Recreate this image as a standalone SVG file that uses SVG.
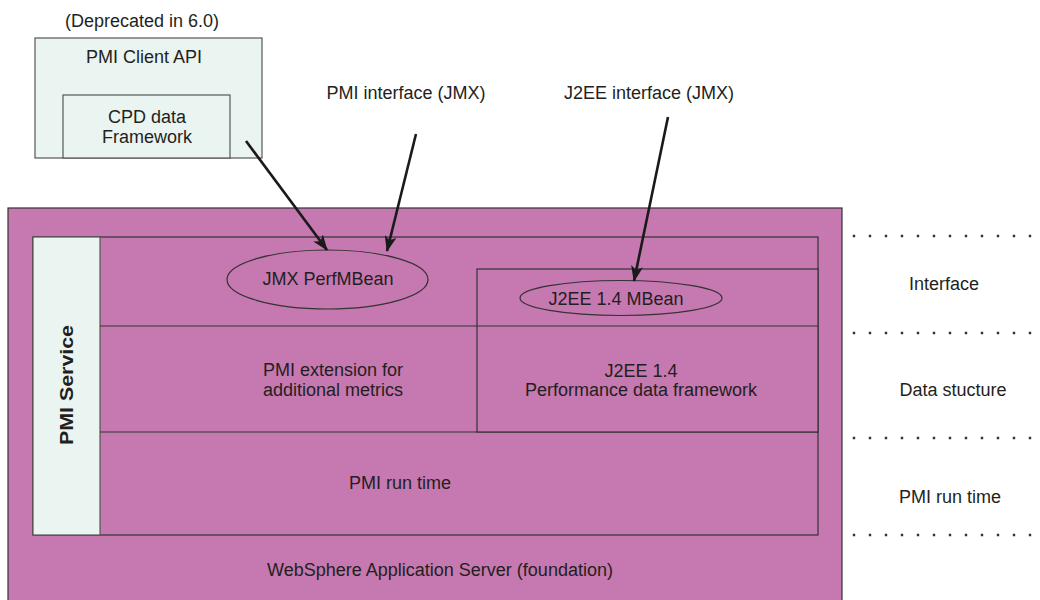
<svg xmlns="http://www.w3.org/2000/svg" width="1040" height="600" viewBox="0 0 1040 600">
<style>
text{font-family:"Liberation Sans",Arial,sans-serif;font-size:18px;fill:#231F20;text-anchor:middle}
.pink{fill:#C678B0;stroke:#333;stroke-width:1.2}
.light{fill:#EAF4F1;stroke:#555;stroke-width:1.2}
.line{fill:none;stroke:#333;stroke-width:1.2}
.arrow{fill:none;stroke:#1a1a1a;stroke-width:2.6;marker-end:url(#ah)}
.dots{stroke:#333;stroke-width:2.4;stroke-dasharray:2.4 13.6;fill:none}
</style>
<defs>
<marker id="ah" viewBox="0 0 16 12" refX="15" refY="6" markerWidth="16" markerHeight="12" markerUnits="userSpaceOnUse" orient="auto">
<path d="M0,0 L16,6 L0,12 L4,6 Z" fill="#1a1a1a"/>
</marker>
</defs>
<g id="websphere">
<rect class="pink" x="8" y="208" width="834" height="394"/>
<text x="440" y="576">WebSphere Application Server (foundation)</text>
</g>
<g id="pmi-service">
<rect class="pink" x="33" y="237" width="785" height="298"/>
<rect class="light" x="33" y="237" width="67" height="298"/>
<text transform="translate(73,385) rotate(-90)" style="font-weight:bold;font-size:19px" textLength="120" lengthAdjust="spacingAndGlyphs">PMI Service</text>
<line class="line" x1="100" y1="326" x2="818" y2="326"/>
<line class="line" x1="100" y1="432" x2="818" y2="432"/>
</g>
<g id="j2ee-box">
<rect class="pink" x="477" y="269" width="341" height="163"/>
<line class="line" x1="477" y1="326" x2="818" y2="326"/>
</g>
<g id="jmx-perfmbean">
<ellipse class="pink" cx="327.5" cy="279.5" rx="100.5" ry="29.5"/>
<text x="328" y="285">JMX PerfMBean</text>
</g>
<g id="j2ee-mbean">
<ellipse class="pink" cx="621" cy="298" rx="101" ry="17.5"/>
<text x="616" y="305">J2EE 1.4 MBean</text>
</g>
<g id="pmi-extension">
<text x="333" y="376">PMI extension for</text>
<text x="333" y="396">additional metrics</text>
</g>
<g id="j2ee-framework">
<text x="641" y="377">J2EE 1.4</text>
<text x="641" y="396">Performance data framework</text>
</g>
<g id="pmi-runtime">
<text x="400" y="489">PMI run time</text>
</g>
<g id="client-api">
<text x="142" y="27">(Deprecated in 6.0)</text>
<rect class="light" x="35" y="38" width="227" height="120"/>
<text x="144" y="63">PMI Client API</text>
<rect class="light" x="63" y="95" width="167" height="63"/>
<text x="147" y="123">CPD data</text>
<text x="147" y="143">Framework</text>
</g>
<g id="labels">
<text x="406" y="99">PMI interface (JMX)</text>
<text x="649" y="99">J2EE interface (JMX)</text>
<text x="944" y="290">Interface</text>
<text x="953" y="396">Data stucture</text>
<text x="950" y="503">PMI run time</text>
</g>
<g id="connectors">
<line class="arrow" x1="246" y1="141" x2="327" y2="250"/>
<line class="arrow" x1="416" y1="134" x2="387" y2="251"/>
<line class="arrow" x1="668" y1="117" x2="634" y2="281"/>
<path class="dots" d="M852.8,236H1040M852.8,333H1040M852.8,438H1040M852.8,535H1040"/>
</g>
</svg>
